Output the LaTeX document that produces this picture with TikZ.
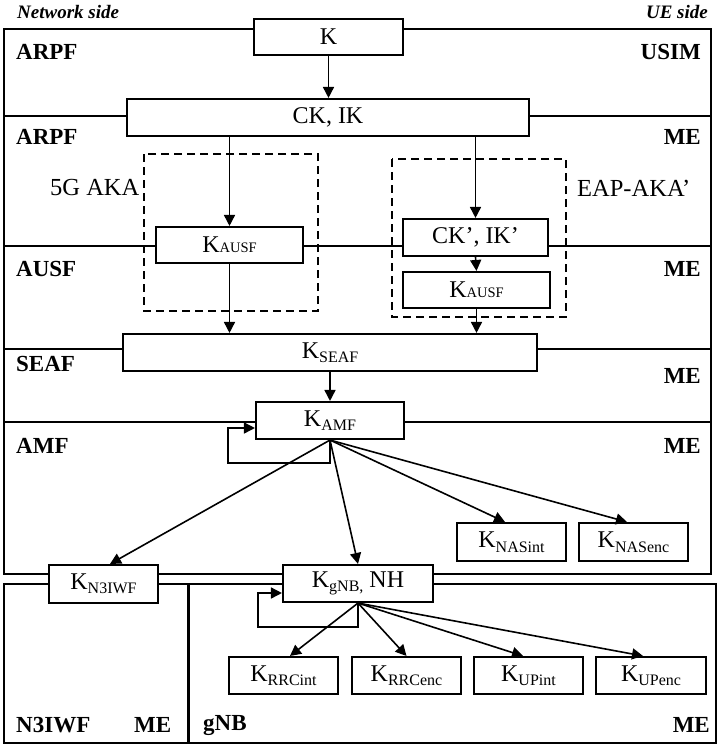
\documentclass[tikz,border=0pt]{standalone}
\usepackage{fontspec}
\setmainfont{Liberation Serif}
\usetikzlibrary{arrows.meta,calc}
\newcommand{\sbs}[1]{\raisebox{-4.5pt}{\fontsize{16}{16}\selectfont #1}}
\newcommand{\scp}[1]{{\fontsize{14.5}{14.5}\selectfont #1}}
\begin{document}
\begin{tikzpicture}[x=1pt,y=-1pt,
 kbox/.style={draw, line width=2.1pt, fill=white, inner sep=0pt, font=\fontsize{24}{24}\selectfont},
 reg/.style={draw, line width=1.4pt},
 sep/.style={line width=1.3pt},
 dbox/.style={draw, line width=1.5pt, dash pattern=on 8pt off 5pt},
 arr/.style={line width=1.6pt, -{Triangle[length=11pt,width=11pt]}},
 lab/.style={font=\fontsize{23}{23}\selectfont\bfseries, inner sep=0pt},
 txt/.style={font=\fontsize{24.5}{24.5}\selectfont, inner sep=0pt},
 side/.style={font=\fontsize{19}{19}\selectfont\bfseries\itshape, inner sep=0pt}
]
\useasboundingbox (0,0) rectangle (720,748);

% regions
\draw[reg] (4,29) rectangle (711,574);
\draw[reg] (4,584) rectangle (188,743);
\draw[reg] (189,584) rectangle (716,743);
\draw[sep] (4,116) -- (711,116);
\draw[sep] (4,246) -- (711,246);
\draw[sep] (4,349) -- (711,349);
\draw[sep] (4,422) -- (711,422);

% dashed groups
\draw[dbox] (144,154) rectangle (318,311);
\draw[dbox] (392,159) rectangle (566,317);

% side titles and region labels
\node[side, anchor=west] (netside) at (17,12) {Network side};
\node[side, anchor=east] (ueside) at (708,12) {UE side};
\node[lab, anchor=west] (arpfa) at (16,52) {ARPF};
\node[lab, anchor=east] (usim) at (701,52) {USIM};
\node[lab, anchor=west] (arpfb) at (16,137) {ARPF};
\node[lab, anchor=east] (mea) at (701,137) {ME};
\node[lab, anchor=west] (ausf) at (16,269) {AUSF};
\node[lab, anchor=east] (meb) at (701,269) {ME};
\node[lab, anchor=west] (seaf) at (16,364) {SEAF};
\node[lab, anchor=east] (mec) at (701,376) {ME};
\node[lab, anchor=west] (amf) at (16,446) {AMF};
\node[lab, anchor=east] (med) at (701,446) {ME};
\node[lab, anchor=west] (n3iwf) at (16,725) {N3IWF};
\node[lab, anchor=west] (mee) at (134,725) {ME};
\node[lab, anchor=west] (gnb) at (203,725) {gNB};
\node[lab, anchor=east] (mef) at (710,725) {ME};
\node[txt, anchor=west] (fgaka) at (50,188) {5G AKA};
\node[txt, anchor=west] (eapaka) at (577,188) {EAP-AKA’};

% key boxes
\node[kbox, minimum width=149pt, minimum height=36pt] (k) at (328.5,37) {K};
\node[kbox, minimum width=402pt, minimum height=37pt] (ckik) at (328,117.5) {CK, IK};
\node[kbox, minimum width=147pt, minimum height=36pt] (kausfa) at (229.5,245) {K\scp{AUSF}};
\node[kbox, minimum width=145pt, minimum height=37pt] (ckp) at (475.5,237.5) {CK’, IK’};
\node[kbox, minimum width=147pt, minimum height=36pt] (kausfb) at (476.5,290) {K\scp{AUSF}};
\node[kbox, minimum width=414pt, minimum height=37pt] (kseaf) at (330,352.5) {K\sbs{SEAF}};
\node[kbox, minimum width=148pt, minimum height=37pt] (kamf) at (330,420.5) {K\sbs{AMF}};
\node[kbox, minimum width=109pt, minimum height=38pt] (knasint) at (511.5,542) {K\sbs{NASint}};
\node[kbox, minimum width=109pt, minimum height=38pt] (knasenc) at (633.5,542) {K\sbs{NASenc}};
\node[kbox, minimum width=109pt, minimum height=38pt] (kn3iwf) at (103.5,584) {K\sbs{N3IWF}};
\node[kbox, minimum width=150pt, minimum height=37pt] (kgnb) at (358,583.5) {K\sbs{gNB,} NH};
\node[kbox, minimum width=109pt, minimum height=37pt] (krrcint) at (283.5,675.5) {K\sbs{RRCint}};
\node[kbox, minimum width=109pt, minimum height=37pt] (krrcenc) at (406.5,675.5) {K\sbs{RRCenc}};
\node[kbox, minimum width=109pt, minimum height=37pt] (kupint) at (528.5,675.5) {K\sbs{UPint}};
\node[kbox, minimum width=110pt, minimum height=37pt] (kupenc) at (651,675.5) {K\sbs{UPenc}};

% arrows
\draw[arr] (k.south) -- (k.south |- ckik.north);
\draw[arr] (ckik.south -| kausfa.north) -- (kausfa.north);
\draw[arr] (ckik.south -| ckp.north) -- (ckp.north);
\draw[arr] (ckp.south) -- (kausfb.north);
\draw[arr] (kausfa.south) -- (kseaf.north -| kausfa.south);
\draw[arr] (kausfb.south) -- (kseaf.north -| kausfb.south);
\draw[arr] (kseaf.south) -- (kamf.north);
\draw[arr] (kamf.south) -- ++(0,23) -| ($(kamf.west)+(-27,7.5)$) -- ($(kamf.west)+(0,7.5)$);
\draw[arr] (kamf.south) -- ($(kn3iwf.north)+(6.5,0)$);
\draw[arr] (kamf.south) -- (kgnb.north);
\draw[arr] (kamf.south) -- ($(knasint.north)+(-6.5,0)$);
\draw[arr] (kamf.south) -- ($(knasenc.north)+(-6.5,0)$);
\draw[arr] (kgnb.south) -- ++(0,24) -| ($(kgnb.west)+(-24,9.5)$) -- ($(kgnb.west)+(0,9.5)$);
\draw[arr] (kgnb.south) -- ($(krrcint.north)+(6.5,0)$);
\draw[arr] (kgnb.south) -- (krrcenc.north);
\draw[arr] (kgnb.south) -- ($(kupint.north)+(-5.5,0)$);
\draw[arr] (kgnb.south) -- ($(kupenc.north)+(-8,0)$);
\end{tikzpicture}
\end{document}
